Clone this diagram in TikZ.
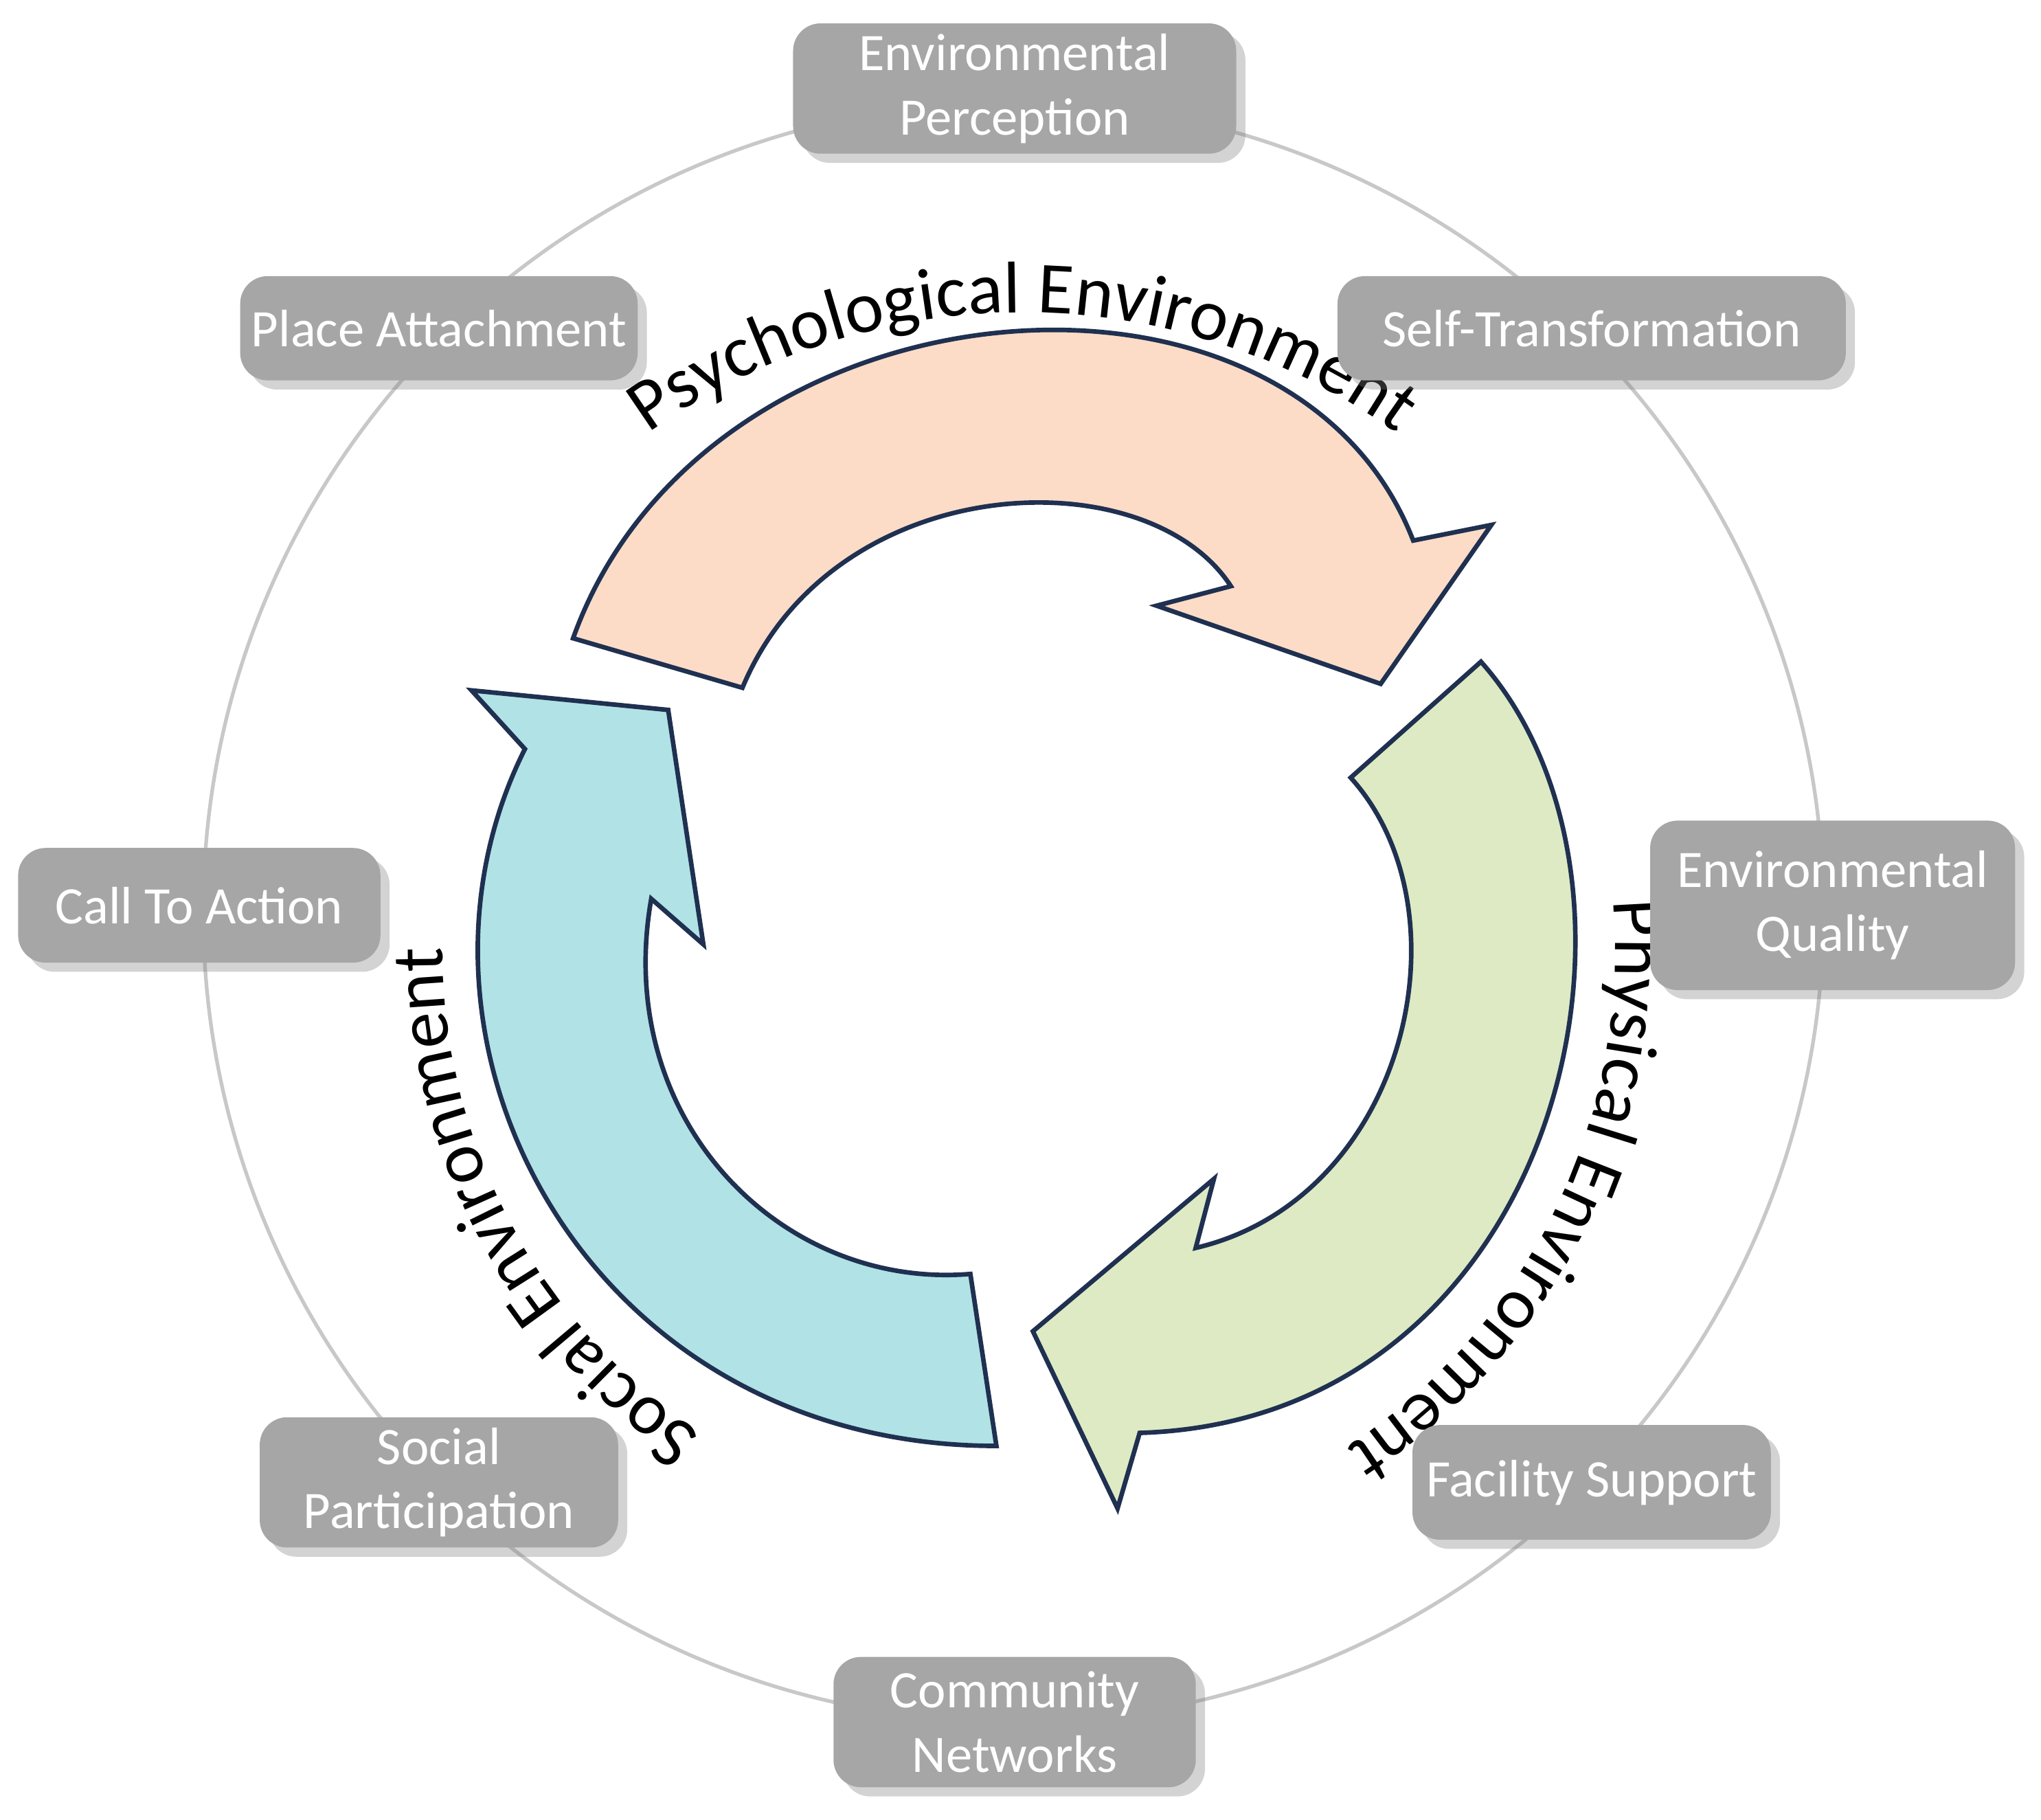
\documentclass[tikz,border=0pt]{standalone}
\usepackage{fontspec}
\setmainfont{Carlito}
\usetikzlibrary{positioning, shadows, decorations.text}
\definecolor{boxgray}{HTML}{A6A6A6}
\definecolor{ringgray}{HTML}{C8C8C8}
\definecolor{navy}{HTML}{1F3050}
\definecolor{peach}{HTML}{FCDCC7}
\definecolor{leaf}{HTML}{DDEAC4}
\definecolor{aqua}{HTML}{B1E2E6}
\tikzset{
x=0.01cm, y=0.01cm,
factor/.style={rectangle, rounded corners=6pt, fill=boxgray, text=white, align=center,
  font=\fontsize{11.5}{14}\selectfont, inner sep=0pt,
  drop shadow={shadow xshift=2pt, shadow yshift=-2pt, opacity=0.35}}, % grey item boxes
cycle arrow/.style={draw=navy, line width=1pt, line join=miter},
}
\begin{document}
\begin{tikzpicture}
\useasboundingbox (0,0) rectangle (1567,1397);
\coordinate (ring) at (778,697);
\coordinate (hub) at (785,667);
\draw[ringgray, line width=0.8pt] (ring) circle[radius=622];
% curved arrows
\draw[cycle arrow, fill=peach] (440,907) .. controls (540,1187) and (990,1227) .. (1085,982)
  -- (1145,994) -- (1060,872) -- (888,932) -- (945,947)
  .. controls (880,1047) and (640,1037) .. (570,869) -- cycle;
\draw[cycle arrow, fill=leaf] (1137,889) .. controls (1290,717) and (1200,307) .. (875,297)
  -- (858,239) -- (793,375) -- (932,492) -- (918,439)
  .. controls (1080,477) and (1130,697) .. (1037,800) -- cycle;
\draw[cycle arrow, fill=aqua] (765,287) .. controls (450,287) and (290,597) .. (403,822)
  -- (362,867) -- (513,852) -- (540,672) -- (500,707)
  .. controls (470,537) and (600,407) .. (745,419) -- cycle;
% arrow labels
\path[decorate, decoration={text along path, text align=center,
  text={|\fontsize{16}{19}\selectfont|Psychological Environment}}]
  (hub) ++(134:490) arc[start angle=134, end angle=46, radius=490];
\path[decorate, decoration={text along path, text align=center,
  text={|\fontsize{16}{19}\selectfont|Physical Environment}}]
  (hub) ++(10:455) arc[start angle=10, end angle=-62, radius=455];
\path[decorate, decoration={text along path, text align=center,
  text={|\fontsize{16}{19}\selectfont|Social Environment}}]
  (hub) ++(-118:445) arc[start angle=-118, end angle=-186, radius=445];
% item boxes
\node[factor, minimum width=3.4cm, minimum height=1cm] (perception) at (779,1329) {Environmental\\Perception};
\node[factor, minimum width=3.9cm, minimum height=0.8cm] (transform) at (1222,1145) {Self-Transformation};
\node[factor, minimum width=3.05cm, minimum height=0.8cm] (attach) at (337,1145) {Place Attachment};
\node[factor, minimum width=2.8cm, minimum height=1.3cm] (quality) at (1407,702) {Environmental\\Quality};
\node[factor, minimum width=2.78cm, minimum height=0.88cm] (action) at (153,702) {Call To Action};
\node[factor, minimum width=2.75cm, minimum height=0.88cm] (facility) at (1222,259) {Facility Support};
\node[factor, minimum width=2.75cm, minimum height=1cm] (social) at (337,259) {Social\\Participation};
\node[factor, minimum width=2.78cm, minimum height=1cm] (community) at (779,75) {Community\\Networks};
\end{tikzpicture}
\end{document}
